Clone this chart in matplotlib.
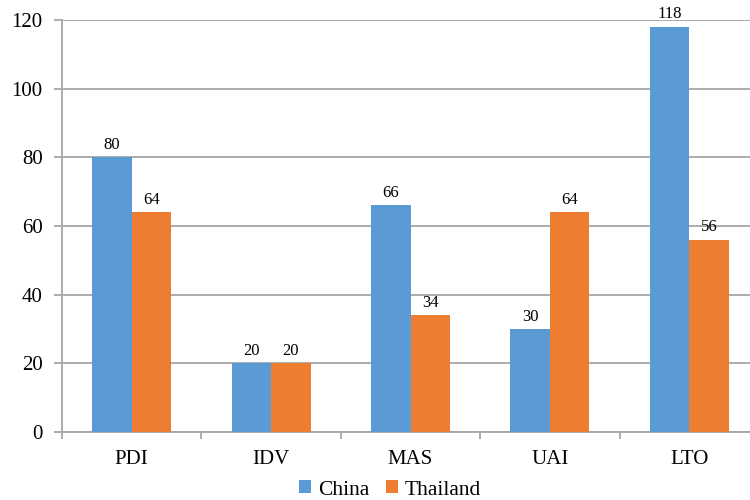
import numpy as np
import matplotlib.pyplot as plt

categories = ['PDI', 'IDV', 'MAS', 'UAI', 'LTO']
china = [80, 20, 66, 30, 118]
thailand = [64, 20, 34, 64, 56]

plt.rcParams['font.family'] = ['Liberation Serif', 'DejaVu Serif']

fig = plt.figure(figsize=(7.5, 5), dpi=100)
# axes run a little past the right edge of the figure
ax = fig.add_axes([62 / 750, 68 / 500, 697 / 750, 412 / 500])

x = np.arange(len(categories))
w = 0.284
b1 = ax.bar(x - w / 2, china, w, color='#5B9BD5', label='China', zorder=3)
b2 = ax.bar(x + w / 2, thailand, w, color='#ED7D31', label='Thailand', zorder=3)

for bars, vals in ((b1, china), (b2, thailand)):
    for rect, v in zip(bars, vals):
        ax.text(rect.get_x() + rect.get_width() / 2, v + 1.3, str(v),
                ha='center', va='bottom', fontsize=12)

ax.set_xlim(-0.5, len(categories) - 0.5)
ax.set_ylim(0, 120)
ax.set_yticks(range(0, 121, 20))
ax.yaxis.grid(True, color='#a6a6a6', linewidth=1.3, zorder=0)
ax.set_xticks(x)
ax.set_xticklabels(categories, fontsize=15)
ax.set_xticks(np.arange(-0.5, len(categories), 1), minor=True)
ax.tick_params(axis='x', which='major', length=0, pad=13)
ax.tick_params(axis='x', which='minor', length=5, color='#a6a6a6', width=1.3)
ax.tick_params(axis='y', length=6, color='#a6a6a6', width=1.3, labelsize=15, pad=8)

for s in ('top', 'right'):
    ax.spines[s].set_visible(False)
for s in ('left', 'bottom'):
    ax.spines[s].set_color('#a6a6a6')
    ax.spines[s].set_linewidth(1.3)

fig.legend(loc='center', bbox_to_anchor=(0.52, 10 / 500), ncol=2, frameon=False,
           fontsize=15.5, handlelength=0.55, handleheight=0.55, handletextpad=0.3,
           columnspacing=0.8)

fig.savefig('out.png', dpi=100)
